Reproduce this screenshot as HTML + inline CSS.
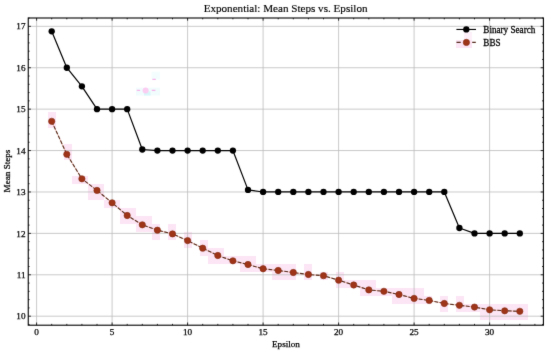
<!DOCTYPE html><html><head><meta charset="utf-8"><style>html,body{margin:0;padding:0;background:#fff;width:550px;height:355px;overflow:hidden}svg{display:block}text{font-family:"Liberation Serif",serif;fill:#000;stroke:#000;stroke-width:0.25px}</style></head><body>
<svg width="550" height="355" viewBox="0 0 550 355">
<defs><filter id="f" x="0" y="0" width="550" height="355" filterUnits="userSpaceOnUse" color-interpolation-filters="sRGB"><feConvolveMatrix order="3" kernelMatrix="0.01 0.065 0.01 0.065 0.7 0.065 0.01 0.065 0.01" divisor="1" edgeMode="duplicate"/></filter><filter id="g" x="0" y="0" width="550" height="355" filterUnits="userSpaceOnUse" color-interpolation-filters="sRGB"><feOffset dx="0" dy="0"/></filter></defs>
<g filter="url(#f)">
<rect x="0" y="0" width="550" height="355" fill="#fff"/>
<rect x="464" y="32" width="8" height="8" fill="#fdf0f9"/>
<path d="M48 112h8v8h-8zM48 120h8v8h-8zM64 144h8v8h-8zM64 152h8v8h-8zM72 176h8v8h-8zM80 176h8v8h-8zM88 184h8v8h-8zM88 192h8v8h-8zM96 184h8v8h-8zM96 192h8v8h-8zM104 200h8v8h-8zM112 200h8v8h-8zM120 208h8v8h-8zM120 216h8v8h-8zM128 208h8v8h-8zM128 216h8v8h-8zM136 216h8v8h-8zM136 224h8v8h-8zM144 216h8v8h-8zM144 224h8v8h-8zM152 224h8v8h-8zM152 232h8v8h-8zM168 224h8v8h-8zM168 232h8v8h-8zM184 232h8v8h-8zM184 240h8v8h-8zM200 240h8v8h-8zM200 248h8v8h-8zM208 248h8v8h-8zM208 256h8v8h-8zM216 248h8v8h-8zM216 256h8v8h-8zM224 256h8v8h-8zM232 256h8v8h-8zM240 256h8v8h-8zM240 264h8v8h-8zM248 256h8v8h-8zM248 264h8v8h-8zM256 264h8v8h-8zM264 264h8v8h-8zM272 264h8v8h-8zM272 272h8v8h-8zM280 264h8v8h-8zM280 272h8v8h-8zM288 264h8v8h-8zM288 272h8v8h-8zM304 264h8v8h-8zM304 272h8v8h-8zM320 272h8v8h-8zM336 272h8v8h-8zM336 280h8v8h-8zM344 280h8v8h-8zM352 280h8v8h-8zM360 280h8v8h-8zM360 288h8v8h-8zM368 280h8v8h-8zM368 288h8v8h-8zM376 288h8v8h-8zM384 288h8v8h-8zM392 288h8v8h-8zM392 296h8v8h-8zM400 288h8v8h-8zM400 296h8v8h-8zM408 288h8v8h-8zM408 296h8v8h-8zM416 288h8v8h-8zM416 296h8v8h-8zM424 296h8v8h-8zM440 296h8v8h-8zM440 304h8v8h-8zM456 40h8v8h-8zM456 296h8v8h-8zM456 304h8v8h-8zM464 40h8v8h-8zM464 304h8v8h-8zM472 304h8v8h-8zM480 304h8v8h-8zM480 312h8v8h-8zM488 304h8v8h-8zM488 312h8v8h-8zM496 304h8v8h-8zM496 312h8v8h-8zM504 304h8v8h-8zM504 312h8v8h-8zM512 304h8v8h-8zM512 312h8v8h-8zM520 304h8v8h-8zM520 312h8v8h-8z" fill="#fce5f5"/>
<path d="M36.60 18.00V325.20M112.10 18.00V325.20M187.60 18.00V325.20M263.10 18.00V325.20M338.60 18.00V325.20M414.10 18.00V325.20M489.60 18.00V325.20M28.25 316.20H543.40M28.25 274.79H543.40M28.25 233.38H543.40M28.25 191.97H543.40M28.25 150.56H543.40M28.25 109.15H543.40M28.25 67.74H543.40M28.25 26.33H543.40" stroke="#bcbcbc" stroke-width="0.8" fill="none"/>
<rect x="136" y="87.7" width="24" height="7.8" fill="#f1fcfd"/><rect x="144" y="91.5" width="6.5" height="4" fill="#d8f7fa"/><rect x="151.6" y="71.7" width="8.4" height="7.8" fill="#f4fdfe"/><circle cx="145.6" cy="90.5" r="3" fill="#fbcdf1"/><path d="M136.8 90.4h3.3M151.8 90.4h3.6M152.4 79.3h3.4" stroke="#f6b4ea" stroke-width="1.2"/>
<polyline points="51.70,121.30 66.80,154.30 81.90,178.80 97.00,190.40 112.10,202.80 127.20,215.50 142.30,224.80 157.40,230.20 172.50,233.90 187.60,240.60 202.70,248.20 217.80,255.50 232.90,260.80 248.00,264.50 263.10,268.75 278.20,270.50 293.30,272.50 308.40,274.50 323.50,275.70 338.60,280.20 353.70,285.00 368.80,289.90 383.90,291.30 399.00,294.50 414.10,298.40 429.20,300.40 444.30,303.50 459.40,305.30 474.50,307.10 489.60,309.80 504.70,310.80 519.80,311.30" fill="none" stroke="#ecb8b0" stroke-width="1.0"/>
<polyline points="51.70,121.30 66.80,154.30 81.90,178.80 97.00,190.40 112.10,202.80 127.20,215.50 142.30,224.80 157.40,230.20 172.50,233.90 187.60,240.60 202.70,248.20 217.80,255.50 232.90,260.80 248.00,264.50 263.10,268.75 278.20,270.50 293.30,272.50 308.40,274.50 323.50,275.70 338.60,280.20 353.70,285.00 368.80,289.90 383.90,291.30 399.00,294.50 414.10,298.40 429.20,300.40 444.30,303.50 459.40,305.30 474.50,307.10 489.60,309.80 504.70,310.80 519.80,311.30" fill="none" stroke="#552c1c" stroke-width="1.1" stroke-dasharray="3.7,1.6"/>
<circle cx="51.70" cy="121.30" r="3.15" fill="#9e3418" stroke="#842c12" stroke-width="0.6"/>
<circle cx="66.80" cy="154.30" r="3.15" fill="#9e3418" stroke="#842c12" stroke-width="0.6"/>
<circle cx="81.90" cy="178.80" r="3.15" fill="#9e3418" stroke="#842c12" stroke-width="0.6"/>
<circle cx="97.00" cy="190.40" r="3.15" fill="#9e3418" stroke="#842c12" stroke-width="0.6"/>
<circle cx="112.10" cy="202.80" r="3.15" fill="#9e3418" stroke="#842c12" stroke-width="0.6"/>
<circle cx="127.20" cy="215.50" r="3.15" fill="#9e3418" stroke="#842c12" stroke-width="0.6"/>
<circle cx="142.30" cy="224.80" r="3.15" fill="#9e3418" stroke="#842c12" stroke-width="0.6"/>
<circle cx="157.40" cy="230.20" r="3.15" fill="#9e3418" stroke="#842c12" stroke-width="0.6"/>
<circle cx="172.50" cy="233.90" r="3.15" fill="#9e3418" stroke="#842c12" stroke-width="0.6"/>
<circle cx="187.60" cy="240.60" r="3.15" fill="#9e3418" stroke="#842c12" stroke-width="0.6"/>
<circle cx="202.70" cy="248.20" r="3.15" fill="#9e3418" stroke="#842c12" stroke-width="0.6"/>
<circle cx="217.80" cy="255.50" r="3.15" fill="#9e3418" stroke="#842c12" stroke-width="0.6"/>
<circle cx="232.90" cy="260.80" r="3.15" fill="#9e3418" stroke="#842c12" stroke-width="0.6"/>
<circle cx="248.00" cy="264.50" r="3.15" fill="#9e3418" stroke="#842c12" stroke-width="0.6"/>
<circle cx="263.10" cy="268.75" r="3.15" fill="#9e3418" stroke="#842c12" stroke-width="0.6"/>
<circle cx="278.20" cy="270.50" r="3.15" fill="#9e3418" stroke="#842c12" stroke-width="0.6"/>
<circle cx="293.30" cy="272.50" r="3.15" fill="#9e3418" stroke="#842c12" stroke-width="0.6"/>
<circle cx="308.40" cy="274.50" r="3.15" fill="#9e3418" stroke="#842c12" stroke-width="0.6"/>
<circle cx="323.50" cy="275.70" r="3.15" fill="#9e3418" stroke="#842c12" stroke-width="0.6"/>
<circle cx="338.60" cy="280.20" r="3.15" fill="#9e3418" stroke="#842c12" stroke-width="0.6"/>
<circle cx="353.70" cy="285.00" r="3.15" fill="#9e3418" stroke="#842c12" stroke-width="0.6"/>
<circle cx="368.80" cy="289.90" r="3.15" fill="#9e3418" stroke="#842c12" stroke-width="0.6"/>
<circle cx="383.90" cy="291.30" r="3.15" fill="#9e3418" stroke="#842c12" stroke-width="0.6"/>
<circle cx="399.00" cy="294.50" r="3.15" fill="#9e3418" stroke="#842c12" stroke-width="0.6"/>
<circle cx="414.10" cy="298.40" r="3.15" fill="#9e3418" stroke="#842c12" stroke-width="0.6"/>
<circle cx="429.20" cy="300.40" r="3.15" fill="#9e3418" stroke="#842c12" stroke-width="0.6"/>
<circle cx="444.30" cy="303.50" r="3.15" fill="#9e3418" stroke="#842c12" stroke-width="0.6"/>
<circle cx="459.40" cy="305.30" r="3.15" fill="#9e3418" stroke="#842c12" stroke-width="0.6"/>
<circle cx="474.50" cy="307.10" r="3.15" fill="#9e3418" stroke="#842c12" stroke-width="0.6"/>
<circle cx="489.60" cy="309.80" r="3.15" fill="#9e3418" stroke="#842c12" stroke-width="0.6"/>
<circle cx="504.70" cy="310.80" r="3.15" fill="#9e3418" stroke="#842c12" stroke-width="0.6"/>
<circle cx="519.80" cy="311.30" r="3.15" fill="#9e3418" stroke="#842c12" stroke-width="0.6"/>
<polyline points="51.70,31.30 66.80,67.74 81.90,86.37 97.00,109.15 112.10,109.15 127.20,109.15 142.30,149.52 157.40,150.56 172.50,150.56 187.60,150.56 202.70,150.56 217.80,150.56 232.90,150.56 248.00,189.90 263.10,191.97 278.20,191.97 293.30,191.97 308.40,191.97 323.50,191.97 338.60,191.97 353.70,191.97 368.80,191.97 383.90,191.97 399.00,191.97 414.10,191.97 429.20,191.97 444.30,191.97 459.40,228.00 474.50,233.38 489.60,233.38 504.70,233.38 519.80,233.38" fill="none" stroke="#000" stroke-width="1.2" stroke-linejoin="round"/>
<circle cx="51.70" cy="31.30" r="3.15" fill="#000"/>
<circle cx="66.80" cy="67.74" r="3.15" fill="#000"/>
<circle cx="81.90" cy="86.37" r="3.15" fill="#000"/>
<circle cx="97.00" cy="109.15" r="3.15" fill="#000"/>
<circle cx="112.10" cy="109.15" r="3.15" fill="#000"/>
<circle cx="127.20" cy="109.15" r="3.15" fill="#000"/>
<circle cx="142.30" cy="149.52" r="3.15" fill="#000"/>
<circle cx="157.40" cy="150.56" r="3.15" fill="#000"/>
<circle cx="172.50" cy="150.56" r="3.15" fill="#000"/>
<circle cx="187.60" cy="150.56" r="3.15" fill="#000"/>
<circle cx="202.70" cy="150.56" r="3.15" fill="#000"/>
<circle cx="217.80" cy="150.56" r="3.15" fill="#000"/>
<circle cx="232.90" cy="150.56" r="3.15" fill="#000"/>
<circle cx="248.00" cy="189.90" r="3.15" fill="#000"/>
<circle cx="263.10" cy="191.97" r="3.15" fill="#000"/>
<circle cx="278.20" cy="191.97" r="3.15" fill="#000"/>
<circle cx="293.30" cy="191.97" r="3.15" fill="#000"/>
<circle cx="308.40" cy="191.97" r="3.15" fill="#000"/>
<circle cx="323.50" cy="191.97" r="3.15" fill="#000"/>
<circle cx="338.60" cy="191.97" r="3.15" fill="#000"/>
<circle cx="353.70" cy="191.97" r="3.15" fill="#000"/>
<circle cx="368.80" cy="191.97" r="3.15" fill="#000"/>
<circle cx="383.90" cy="191.97" r="3.15" fill="#000"/>
<circle cx="399.00" cy="191.97" r="3.15" fill="#000"/>
<circle cx="414.10" cy="191.97" r="3.15" fill="#000"/>
<circle cx="429.20" cy="191.97" r="3.15" fill="#000"/>
<circle cx="444.30" cy="191.97" r="3.15" fill="#000"/>
<circle cx="459.40" cy="228.00" r="3.15" fill="#000"/>
<circle cx="474.50" cy="233.38" r="3.15" fill="#000"/>
<circle cx="489.60" cy="233.38" r="3.15" fill="#000"/>
<circle cx="504.70" cy="233.38" r="3.15" fill="#000"/>
<circle cx="519.80" cy="233.38" r="3.15" fill="#000"/>
<rect x="28.25" y="18.0" width="515.15" height="307.20" fill="none" stroke="#000" stroke-width="1.1"/>
<path d="M36.60 325.20v-2.7M36.60 18.00v2.7M51.70 325.20v-1.35M51.70 18.00v1.35M66.80 325.20v-1.35M66.80 18.00v1.35M81.90 325.20v-1.35M81.90 18.00v1.35M97.00 325.20v-1.35M97.00 18.00v1.35M112.10 325.20v-2.7M112.10 18.00v2.7M127.20 325.20v-1.35M127.20 18.00v1.35M142.30 325.20v-1.35M142.30 18.00v1.35M157.40 325.20v-1.35M157.40 18.00v1.35M172.50 325.20v-1.35M172.50 18.00v1.35M187.60 325.20v-2.7M187.60 18.00v2.7M202.70 325.20v-1.35M202.70 18.00v1.35M217.80 325.20v-1.35M217.80 18.00v1.35M232.90 325.20v-1.35M232.90 18.00v1.35M248.00 325.20v-1.35M248.00 18.00v1.35M263.10 325.20v-2.7M263.10 18.00v2.7M278.20 325.20v-1.35M278.20 18.00v1.35M293.30 325.20v-1.35M293.30 18.00v1.35M308.40 325.20v-1.35M308.40 18.00v1.35M323.50 325.20v-1.35M323.50 18.00v1.35M338.60 325.20v-2.7M338.60 18.00v2.7M353.70 325.20v-1.35M353.70 18.00v1.35M368.80 325.20v-1.35M368.80 18.00v1.35M383.90 325.20v-1.35M383.90 18.00v1.35M399.00 325.20v-1.35M399.00 18.00v1.35M414.10 325.20v-2.7M414.10 18.00v2.7M429.20 325.20v-1.35M429.20 18.00v1.35M444.30 325.20v-1.35M444.30 18.00v1.35M459.40 325.20v-1.35M459.40 18.00v1.35M474.50 325.20v-1.35M474.50 18.00v1.35M489.60 325.20v-2.7M489.60 18.00v2.7M504.70 325.20v-1.35M504.70 18.00v1.35M519.80 325.20v-1.35M519.80 18.00v1.35M534.90 325.20v-1.35M534.90 18.00v1.35M28.25 324.48h1.35M543.40 324.48h-1.35M28.25 316.20h2.7M543.40 316.20h-2.7M28.25 307.92h1.35M543.40 307.92h-1.35M28.25 299.64h1.35M543.40 299.64h-1.35M28.25 291.35h1.35M543.40 291.35h-1.35M28.25 283.07h1.35M543.40 283.07h-1.35M28.25 274.79h2.7M543.40 274.79h-2.7M28.25 266.51h1.35M543.40 266.51h-1.35M28.25 258.23h1.35M543.40 258.23h-1.35M28.25 249.94h1.35M543.40 249.94h-1.35M28.25 241.66h1.35M543.40 241.66h-1.35M28.25 233.38h2.7M543.40 233.38h-2.7M28.25 225.10h1.35M543.40 225.10h-1.35M28.25 216.82h1.35M543.40 216.82h-1.35M28.25 208.53h1.35M543.40 208.53h-1.35M28.25 200.25h1.35M543.40 200.25h-1.35M28.25 191.97h2.7M543.40 191.97h-2.7M28.25 183.69h1.35M543.40 183.69h-1.35M28.25 175.41h1.35M543.40 175.41h-1.35M28.25 167.12h1.35M543.40 167.12h-1.35M28.25 158.84h1.35M543.40 158.84h-1.35M28.25 150.56h2.7M543.40 150.56h-2.7M28.25 142.28h1.35M543.40 142.28h-1.35M28.25 134.00h1.35M543.40 134.00h-1.35M28.25 125.71h1.35M543.40 125.71h-1.35M28.25 117.43h1.35M543.40 117.43h-1.35M28.25 109.15h2.7M543.40 109.15h-2.7M28.25 100.87h1.35M543.40 100.87h-1.35M28.25 92.59h1.35M543.40 92.59h-1.35M28.25 84.30h1.35M543.40 84.30h-1.35M28.25 76.02h1.35M543.40 76.02h-1.35M28.25 67.74h2.7M543.40 67.74h-2.7M28.25 59.46h1.35M543.40 59.46h-1.35M28.25 51.18h1.35M543.40 51.18h-1.35M28.25 42.89h1.35M543.40 42.89h-1.35M28.25 34.61h1.35M543.40 34.61h-1.35M28.25 26.33h2.7M543.40 26.33h-2.7M28.25 18.05h1.35M543.40 18.05h-1.35" stroke="#000" stroke-width="0.8" fill="none"/>
<text x="36.60" y="335.2" font-size="9.2" text-anchor="middle">0</text>
<text x="112.10" y="335.2" font-size="9.2" text-anchor="middle">5</text>
<text x="187.60" y="335.2" font-size="9.2" text-anchor="middle">10</text>
<text x="263.10" y="335.2" font-size="9.2" text-anchor="middle">15</text>
<text x="338.60" y="335.2" font-size="9.2" text-anchor="middle">20</text>
<text x="414.10" y="335.2" font-size="9.2" text-anchor="middle">25</text>
<text x="489.60" y="335.2" font-size="9.2" text-anchor="middle">30</text>
<text x="25.5" y="319.35" font-size="9.2" text-anchor="end">10</text>
<text x="25.5" y="277.94" font-size="9.2" text-anchor="end">11</text>
<text x="25.5" y="236.53" font-size="9.2" text-anchor="end">12</text>
<text x="25.5" y="195.12" font-size="9.2" text-anchor="end">13</text>
<text x="25.5" y="153.71" font-size="9.2" text-anchor="end">14</text>
<text x="25.5" y="112.30" font-size="9.2" text-anchor="end">15</text>
<text x="25.5" y="70.89" font-size="9.2" text-anchor="end">16</text>
<text x="25.5" y="29.48" font-size="9.2" text-anchor="end">17</text>
<text x="285.95" y="347.05" font-size="9.15" text-anchor="middle">Epsilon</text>
<text transform="translate(9.6,171.0) rotate(-90)" x="0" y="0" font-size="9.15" text-anchor="middle">Mean Steps</text>
<text x="285.6" y="12.0" font-size="11.12" text-anchor="middle" style="stroke-width:0.15px">Exponential: Mean Steps vs. Epsilon</text>
<path d="M456.4 29.45H476.0" stroke="#000" stroke-width="1.1"/>
<circle cx="466.3" cy="29.45" r="3.15" fill="#000"/>
<path d="M456.5 42.4H460.7M472.2 42.4H475.8" stroke="#552c1c" stroke-width="1.1"/>
<circle cx="466.4" cy="42.4" r="3.15" fill="#9e3418" stroke="#842c12" stroke-width="0.6"/>
<text transform="translate(483.3,32.7) scale(1,1.09)" font-size="9.15">Binary Search</text>
<text transform="translate(483.3,45.8) scale(1,1.09)" font-size="9.15">BBS</text>
</g>
</svg></body></html>
